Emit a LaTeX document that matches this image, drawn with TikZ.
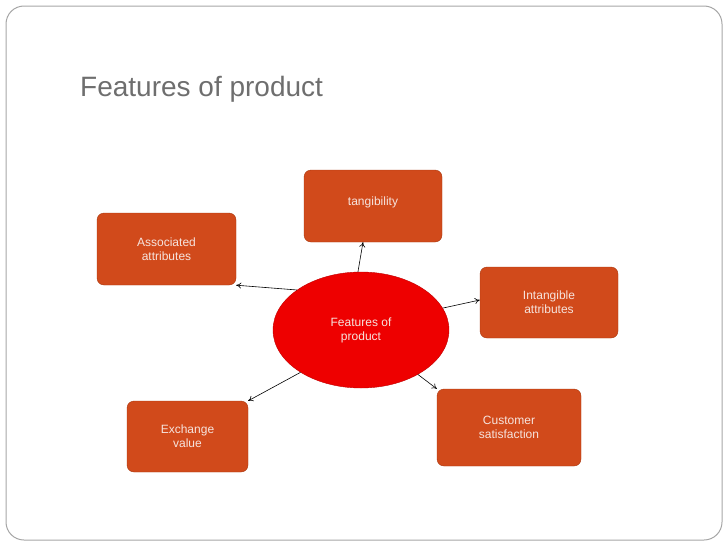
\documentclass[tikz,border=0pt]{standalone}
\usepackage{fontspec}
\setmainfont{Liberation Sans}
\usetikzlibrary{shapes.geometric,arrows.meta}
\definecolor{boxfill}{HTML}{D14A1B}
\definecolor{boxline}{HTML}{A8380F}
\definecolor{ellfill}{HTML}{EE0000}
\definecolor{ellline}{HTML}{C00000}
\definecolor{txtlight}{HTML}{F6E4DE}
\definecolor{titlegray}{HTML}{6E6E6E}
\begin{document}
\begin{tikzpicture}[x=1pt,y=-1pt,
  feat/.style={draw=boxline,fill=boxfill,rounded corners=7pt,text=txtlight,font=\fontsize{12}{14}\selectfont,align=center,inner sep=0pt},
  conn/.style={-{To[length=5pt,width=6pt]},black,line width=0.6pt}]
\useasboundingbox (0,0) rectangle (728,546);
\draw[gray!70,line width=1pt,rounded corners=18pt] (6,6) rectangle (722,540);
\node[anchor=base west,text=titlegray,font=\fontsize{28}{32}\selectfont,inner sep=0pt] (title) at (80,96) {Features of product};
\node[feat,minimum width=138pt,minimum height=72pt] (tang) at (373,206) {\raisebox{10pt}{tangibility}};
\node[feat,minimum width=139pt,minimum height=72pt] (assoc) at (166.5,249) {Associated\\attributes};
\node[feat,minimum width=138pt,minimum height=71pt] (intang) at (549,302.5) {Intangible\\attributes};
\node[feat,minimum width=144pt,minimum height=77pt] (cust) at (509,427.5) {Customer\\satisfaction};
\node[feat,minimum width=121pt,minimum height=71pt] (exch) at (187.5,436.5) {Exchange\\value};
\node[ellipse,draw=ellline,fill=ellfill,minimum width=176pt,minimum height=116pt,text=txtlight,font=\fontsize{12}{14}\selectfont,align=center,inner sep=0pt] (feat) at (361,330) {Features of\\product};
\draw[conn] (feat.93) -- (tang.south -| 363,0);
\draw[conn] (feat.148) -- (assoc.south east);
\draw[conn] (feat.15) -- (intang.west |- 0,300);
\draw[conn] (feat.-38) -- (cust.north west);
\draw[conn] (feat.-145) -- (exch.north east);
\end{tikzpicture}
\end{document}
